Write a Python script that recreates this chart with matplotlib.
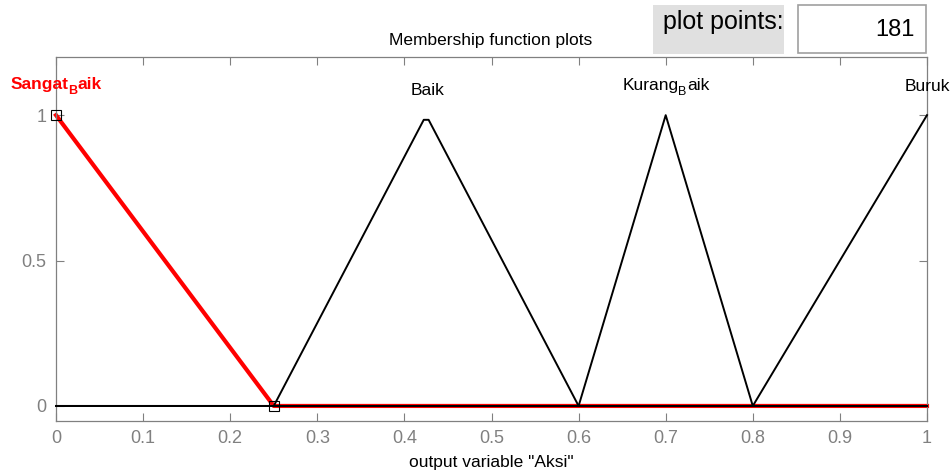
import matplotlib
matplotlib.use("Agg")
import matplotlib.pyplot as plt
from matplotlib.patches import Rectangle
from matplotlib.transforms import ScaledTranslation

plt.rcParams['font.family'] = 'Liberation Sans'

# membership functions (vertices, 181 plot points)
sangat_x = [0, 0.25, 1]
sangat_y = [1, 0, 0]
baik_x = [0, 0.25, 0.4222, 0.4278, 0.6, 1]
baik_y = [0, 0, 0.984, 0.984, 0, 0]
kurang_x = [0, 0.6, 0.7, 0.8, 1]
kurang_y = [0, 0, 1, 0, 0]
buruk_x = [0, 0.8, 1]
buruk_y = [0, 0, 1]

sel_params_x = [0, 0.25]
sel_params_y = [1, 0]
plot_points = 181

gray = '#808080'
fig = plt.figure(figsize=(9.5, 4.72), dpi=100)
ax = fig.add_axes([56/950, 1 - 420.5/472, (927-56)/950, (420.5-57)/472])

# selected MF drawn first (thick red), others on top
ax.plot(sangat_x, sangat_y, color='red', lw=3, zorder=2, clip_on=False)
for xs, ys in [(baik_x, baik_y), (kurang_x, kurang_y), (buruk_x, buruk_y)]:
    ax.plot(xs, ys, color='black', lw=1.4, zorder=3, clip_on=False)
ax.plot(sel_params_x, sel_params_y, 's', ms=7, mfc='none', mec='black',
        mew=0.8, zorder=4, clip_on=False)

ax.set_xlim(0, 1)
ax.set_ylim(-0.05, 1.2)
ax.set_xticks([0, 0.1, 0.2, 0.3, 0.4, 0.5, 0.6, 0.7, 0.8, 0.9, 1])
ax.set_xticklabels(['0', '0.1', '0.2', '0.3', '0.4', '0.5', '0.6', '0.7', '0.8', '0.9', '1'])
ax.set_yticks([0, 0.5, 1])
ax.set_yticklabels(['0', '0.5', '1'])
ax.tick_params(direction='in', length=6, width=0.8, color=gray, labelcolor=gray,
               labelsize=13, top=True, right=True, pad=7)
for s in ax.spines.values():
    s.set_color(gray)
    s.set_linewidth(0.9)

renderer = fig.canvas.get_renderer()


def sub_label(x, y, head, sub, tail, size, **kw):
    # text with a lowered subscript, centred on x (baseline at y)
    pieces = [(head, size, 0), (sub, size * 0.72, -4.5), (tail, size, 0)]
    texts, widths = [], []
    for s, fs, dy in pieces:
        t = ax.text(x, y, s, fontsize=fs, ha='left', va='baseline',
                    clip_on=False, **kw)
        widths.append(t.get_window_extent(renderer).width)
        texts.append((t, dy))
    dx = -sum(widths) / 2
    for (t, dy), w in zip(texts, widths):
        t.set_transform(ax.transData + ScaledTranslation(dx / 100, dy / 100,
                                                         fig.dpi_scale_trans))
        dx += w


sub_label(0, 1.089, 'Sangat', 'B', 'aik', 12.5, color='red', fontweight='bold')
ax.text(0.427, 1.069, 'Baik', fontsize=12.5, ha='center', va='baseline', clip_on=False)
sub_label(0.70, 1.086, 'Kurang', 'B', 'aik', 12.5, color='black')
ax.text(1.0, 1.082, 'Buruk', fontsize=12.5, ha='center', va='baseline', clip_on=False)

fig.text(491/950, 1 - 40/472, 'Membership function plots', ha='center',
         va='center', fontsize=12.5)
fig.text(491/950, 1 - 462/472, 'output variable "Aksi"', ha='center',
         va='center', fontsize=12.5)

# plot points widget
fig.patches.append(Rectangle((653/950, 1 - 54/472), 131/950, 49/472,
                             transform=fig.transFigure, facecolor='#e0e0e0',
                             edgecolor='none'))
fig.text(723/950, 1 - 22/472, 'plot points:', ha='center', va='center', fontsize=18)
fig.patches.append(Rectangle((798/950, 1 - 53/472), 128/950, 48/472,
                             transform=fig.transFigure, facecolor='white',
                             edgecolor='#a0a0a0', lw=1.2))
fig.text(915/950, 1 - 30/472, str(plot_points), ha='right', va='center', fontsize=17)

fig.savefig('out.png', dpi=100)
